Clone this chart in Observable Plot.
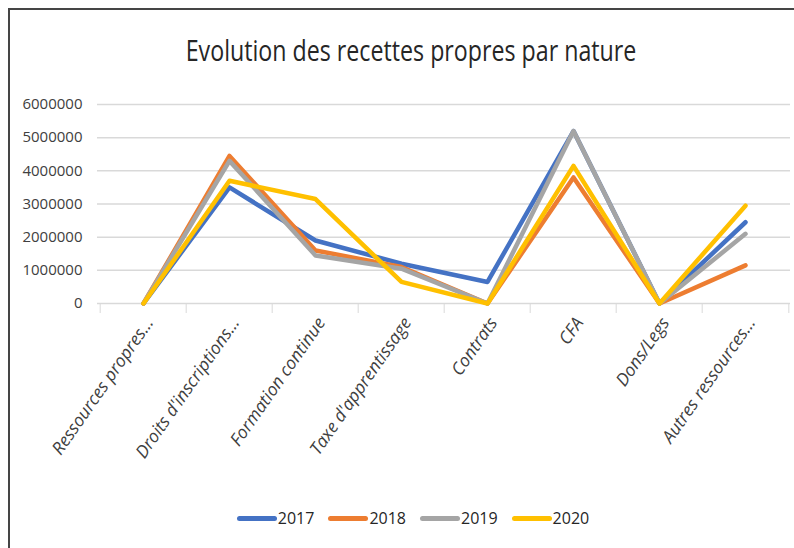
<!DOCTYPE html>
<html>
<head>
<meta charset="utf-8">
<script src="https://cdn.jsdelivr.net/npm/d3@7"></script>
<script src="https://cdn.jsdelivr.net/npm/@observablehq/plot@0.6"></script>
<style>
  html, body { margin: 0; padding: 0; background: #fff; overflow: hidden; }
  #wrap { position: relative; width: 794px; height: 548px; }
  #frame { position: absolute; left: 8px; top: 8px; right: -10px; bottom: -10px;
           border-top: 2px solid #454545; border-left: 2px solid #454545; }
  #title { position: absolute; left: 0; width: 822px; top: 30px; text-align: center;
           font-family: "Open Sans", sans-serif; transform: scaleX(0.80); transform-origin: 411px 0;
           font-size: 29px; line-height: 40px; color: #262626; }
  #legend { position: absolute; top: 507px; left: 0; width: 826px; display: flex;
            justify-content: center; gap: 14px;
            font-family: "Open Sans", sans-serif; font-size: 16px; color: #262626; }
  .item { display: flex; align-items: center; }
  .sw { width: 40px; height: 5px; border-radius: 3px; margin-right: 1px; }
  #chart { position: absolute; left: 0; top: 0; }
</style>
</head>
<body>
<div id="wrap">
  <div id="chart"></div>
  <div id="frame"></div>
  <div id="title">Evolution des recettes propres par nature</div>
  <div id="legend"></div>
</div>
<script>
const categories = ["Ressources propres...", "Droits d'inscriptions...", "Formation continue", "Taxe d'apprentissage", "Contrats", "CFA", "Dons/Legs", "Autres ressources..."];
const years = ["2017", "2018", "2019", "2020"];
const v2017 = [0, 3500000, 1900000, 1200000, 650000, 5200000, 0, 2450000];
const v2018 = [0, 4450000, 1600000, 1100000, 0, 3800000, 0, 1150000];
const v2019 = [0, 4300000, 1450000, 1050000, 0, 5200000, 0, 2100000];
const v2020 = [0, 3700000, 3150000, 650000, 0, 4150000, 0, 2950000];
const yTicks = [0, 1000000, 2000000, 3000000, 4000000, 5000000, 6000000];
const colors = ["#4472C4", "#ED7D31", "#A5A5A5", "#FFC000"];

const series = [v2017, v2018, v2019, v2020];
const data = [];
years.forEach((y, i) => categories.forEach((c, j) => data.push({year: y, cat: c, value: series[i][j]})));

const W = 794, H = 548, ML = 97, MR = 4, MT = 104, MB = 245;
const step = (W - ML - MR) / categories.length;

const chart = Plot.plot({
  width: W, height: H,
  marginLeft: ML, marginRight: MR, marginTop: MT, marginBottom: MB,
  style: {fontFamily: "Open Sans, sans-serif", background: "transparent"},
  x: {type: "point", domain: categories, padding: 0.5},
  y: {domain: [0, 6000000]},
  color: {domain: years, range: colors},
  marks: [
    Plot.gridY(yTicks, {stroke: "#d9d9d9", strokeOpacity: 1, strokeWidth: 1.5}),
    Plot.axisY(yTicks, {tickSize: 0, tickPadding: 15, tickFormat: d => String(d), fontSize: 15, fontFamily: "Open Sans", fill: "#404040", label: null}),
    Plot.axisX(categories, {tickSize: 10, tickFormat: () => "", dx: -step / 2, stroke: "#d9d9d9", label: null}),
    Plot.axisX([categories[categories.length - 1]], {tickSize: 10, tickFormat: () => "", dx: step / 2, stroke: "#d9d9d9", label: null}),
    Plot.axisX(categories, {tickSize: 0, tickPadding: 16, tickRotate: -55, dx: 6, fontSize: 17.5, fontStyle: "italic", fontFamily: "Open Sans", fill: "#404040", label: null}),
    Plot.line(data, {x: "cat", y: "value", z: "year", stroke: "year", strokeWidth: 4.5, strokeLinejoin: "round", strokeLinecap: "round"})
  ]
});
document.getElementById("chart").appendChild(chart);

const legend = document.getElementById("legend");
years.forEach((y, i) => {
  const it = document.createElement("div");
  it.className = "item";
  const sw = document.createElement("span");
  sw.className = "sw";
  sw.style.background = colors[i];
  const t = document.createElement("span");
  t.textContent = y;
  it.appendChild(sw); it.appendChild(t);
  legend.appendChild(it);
});
</script>
</body>
</html>
